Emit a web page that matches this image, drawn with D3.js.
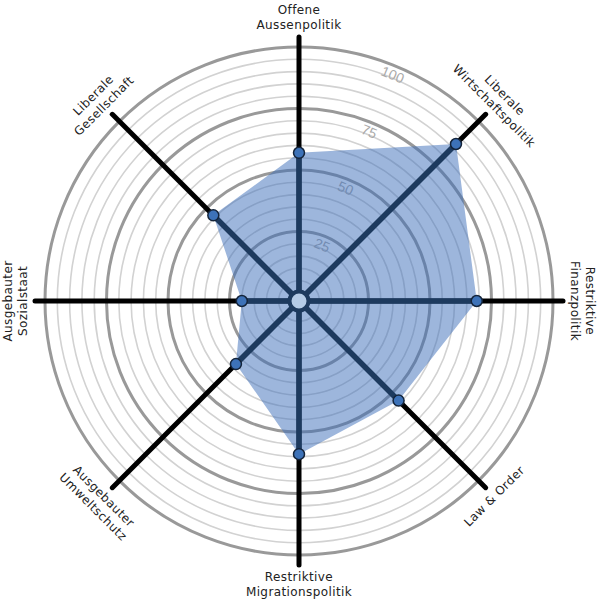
<!DOCTYPE html>
<html>
<head>
<meta charset="utf-8">
<script src="https://cdn.jsdelivr.net/npm/d3@7"></script>
<style>
  html, body { margin: 0; padding: 0; background: #fff; }
  svg { display: block; }
</style>
</head>
<body>
<svg id="chart"></svg>
<script>
// axis labels, clockwise from the top
const axisLabels = [
    ['Offene', 'Aussenpolitik'],
    ['Liberale', 'Wirtschaftspolitik'],
    ['Restriktive', 'Finanzpolitik'],
    ['Law & Order'],
    ['Restriktive', 'Migrationspolitik'],
    ['Ausgebauter', 'Umweltschutz'],
    ['Ausgebauter', 'Sozialstaat'],
    ['Liberale', 'Gesellschaft']
];
const values = [57, 87, 69, 54, 59, 33, 20, 46];
const tickValues = [25, 50, 75, 100];
const ringValues = d3.range(5, 101, 5);

const width = 600;
const height = 603;
const cx = 299, cy = 301;

const r = d3.scaleLinear().domain([0, 100]).range([8, 254]);
const angle = d3.scaleLinear().domain([0, axisLabels.length]).range([0, 2 * Math.PI]);

const svg = d3.select('#chart')
    .attr('width', width)
    .attr('height', height);

const g = svg.append('g').attr('transform', `translate(${cx},${cy})`);

const pt = (a, rad) => [Math.sin(a) * rad, -Math.cos(a) * rad];

// rings
g.selectAll('circle.ring')
    .data(ringValues)
    .enter().append('circle')
    .attr('class', 'ring')
    .attr('r', d => r(d))
    .attr('fill', 'none')
    .attr('stroke', d => d % 25 === 0 ? '#999' : '#d2d2d2')
    .attr('stroke-width', d => d % 25 === 0 ? 3 : 1.6);

// innermost ring
g.append('circle').attr('r', r(0)).attr('fill', 'none').attr('stroke', '#d2d2d2').attr('stroke-width', 1.6);

// tick labels
const tickAngle = Math.PI / 8;
g.selectAll('text.tick')
    .data(tickValues)
    .enter().append('text')
    .attr('class', 'tick')
    .attr('transform', d => {
        const [x, y] = pt(tickAngle, r(d) - 9);
        return `translate(${x},${y}) rotate(22.5)`;
    })
    .attr('text-anchor', 'middle')
    .attr('dy', '0.35em')
    .attr('font-family', 'Liberation Sans, Arial, sans-serif')
    .attr('font-size', 14)
    .attr('fill', '#aaa')
    .text(d => d);

// outer spokes (black)
g.selectAll('line.spoke')
    .data(values)
    .enter().append('line')
    .attr('class', 'spoke')
    .attr('x1', 0).attr('y1', 0)
    .attr('x2', (d, i) => pt(angle(i), 264)[0])
    .attr('y2', (d, i) => pt(angle(i), 264)[1])
    .attr('stroke', '#000')
    .attr('stroke-width', 5)
    .attr('stroke-linecap', 'round');

// data area
g.append('path')
    .datum(values)
    .attr('d', d3.lineRadial()
        .angle((d, i) => angle(i))
        .radius(d => r(d))
        .curve(d3.curveLinearClosed))
    .attr('fill', 'rgb(60,110,185)')
    .attr('fill-opacity', 0.5)
    .attr('stroke', 'none');

// inner spokes (navy)
g.selectAll('line.inner')
    .data(values)
    .enter().append('line')
    .attr('class', 'inner')
    .attr('x1', 0).attr('y1', 0)
    .attr('x2', (d, i) => pt(angle(i), r(d))[0])
    .attr('y2', (d, i) => pt(angle(i), r(d))[1])
    .attr('stroke', '#1d3a5e')
    .attr('stroke-width', 5.5);

// hub
g.append('circle')
    .attr('r', 9.5)
    .attr('fill', '#b4cbe6')
    .attr('stroke', '#1d3a5e')
    .attr('stroke-width', 4);

// points
g.selectAll('circle.pt')
    .data(values)
    .enter().append('circle')
    .attr('class', 'pt')
    .attr('cx', (d, i) => pt(angle(i), r(d))[0])
    .attr('cy', (d, i) => pt(angle(i), r(d))[1])
    .attr('r', 5.5)
    .attr('fill', '#3d72b8')
    .attr('stroke', '#14243a')
    .attr('stroke-width', 1.5);

// axis labels
const labelR = 276;
const lineH = 15;
axisLabels.forEach((lines, i) => {
    const deg = i * 360 / axisLabels.length;
    let rot, lower;
    if (deg <= 90) { rot = deg; lower = false; }
    else if (deg < 270) { rot = deg - 180; lower = true; }
    else { rot = deg - 360; lower = false; }
    const [x, y] = pt(angle(i), labelR);
    const t = g.append('text')
        .attr('transform', `translate(${x},${y}) rotate(${rot})`)
        .attr('text-anchor', 'middle')
        .attr('font-family', 'DejaVu Sans, sans-serif')
        .attr('font-size', 12)
        .attr('letter-spacing', 0.4)
        .attr('fill', '#222');
    const n = lines.length;
    lines.forEach((s, k) => {
        // line nearest the centre sits on labelR
        const off = lower ? k * lineH : (k - (n - 1)) * lineH;
        t.append('tspan')
            .attr('x', 0)
            .attr('y', off)
            .attr('dy', '0.35em')
            .text(s);
    });
});
</script>
</body>
</html>
